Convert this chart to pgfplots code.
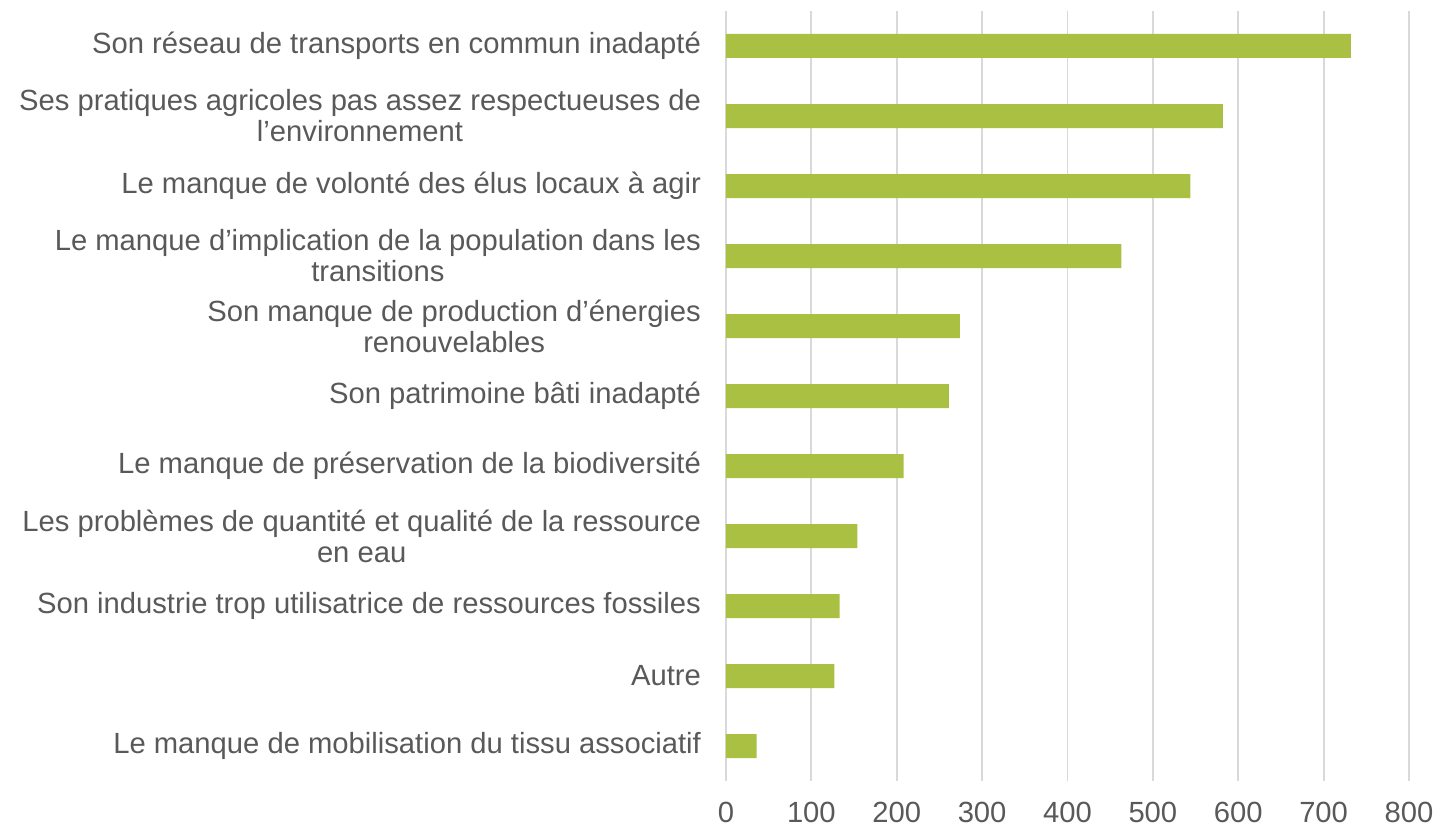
\documentclass[border=0pt]{standalone}
\usepackage{pgfplots}
\pgfplotsset{compat=1.18}
\usepackage{fontspec}
\setmainfont{Liberation Sans}
\definecolor{barg}{RGB}{169,192,67}
\definecolor{txt}{RGB}{89,89,89}
\definecolor{grd}{RGB}{217,217,217}
\begin{document}
\begin{tikzpicture}
\begin{axis}[
  scale only axis,
  width=341.5pt, height=385pt,
  xbar, bar width=12pt,
  xmin=0, xmax=800,
  ymin=-0.5, ymax=10.5,
  y dir=reverse,
  xtick={0,100,...,800},
  ytick={0,...,10},
  yticklabels={
    {Son réseau de transports en commun inadapté},
    {Ses pratiques agricoles pas assez respectueuses de\\l’environnement},
    {Le manque de volonté des élus locaux à agir},
    {Le manque d’implication de la population dans les\\transitions},
    {Son manque de production d’énergies\\renouvelables},
    {Son patrimoine bâti inadapté},
    {Le manque de préservation de la biodiversité},
    {Les problèmes de quantité et qualité de la ressource\\en eau},
    {Son industrie trop utilisatrice de ressources fossiles},
    {Autre},
    {Le manque de mobilisation du tissu associatif}},
  axis line style={draw=none},
  major tick length=0pt,
  xmajorgrids,
  grid style={grd, line width=0.9pt},
  /pgf/number format/assume math mode=true,
  ticklabel style={font=\fontsize{14.6}{15.5}\selectfont, text=txt},
  yticklabel style={align=center, xshift=-9pt},
  xticklabel style={yshift=-7pt},
]
\addplot[fill=barg, draw=none] coordinates {
 (732,0) (582,1) (544,2) (463,3) (274,4) (261,5) (208,6) (154,7) (133,8) (127,9) (36,10)};
\end{axis}
\pgfresetboundingbox
\path[use as bounding box] (-363pt,-24pt) rectangle (356pt,390.5pt);
\end{tikzpicture}
\end{document}
